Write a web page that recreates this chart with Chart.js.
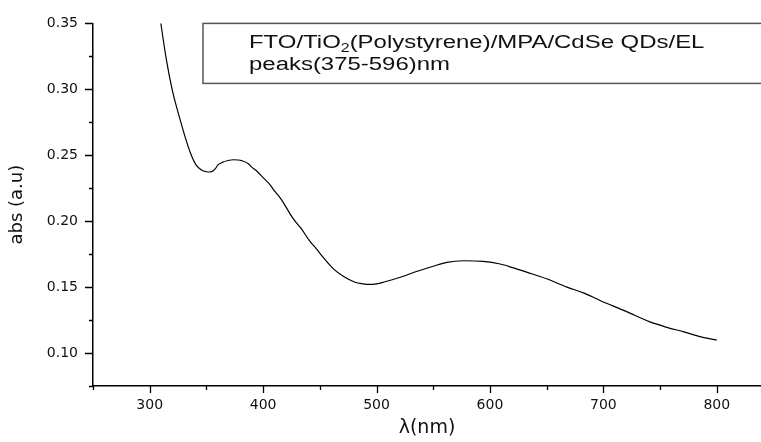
<!DOCTYPE html>
<html>
<head>
<meta charset="utf-8">
<script src="https://cdn.jsdelivr.net/npm/chart.js@4/dist/chart.umd.min.js"></script>
<style>
  body { margin: 0; background: #fff; }
  #wrap { width: 761px; height: 442px; }
</style>
</head>
<body>
<div id="wrap"><canvas id="myChart"></canvas></div>
<script>
// wavelength (nm) and absorbance
const wavelength = [300, 305, 310, 315, 320, 322, 327, 331, 336, 341, 346, 350, 353, 356, 358, 360,
  364, 369, 374, 378, 381, 387, 390, 395, 400, 406, 410, 415, 420, 424, 428, 433, 441, 447, 453,
  462, 471, 481, 488, 494, 500, 506, 521, 536, 550, 562, 577, 594, 609, 620, 633, 650, 668, 683,
  697, 720, 741, 756, 771, 786, 800];
const absorbance = [0.415, 0.38, 0.349, 0.321, 0.299, 0.292, 0.2765, 0.2645, 0.2515, 0.2425, 0.2386,
  0.2375, 0.2373, 0.2382, 0.2400, 0.2425, 0.2446, 0.2460, 0.2466, 0.2464, 0.2459, 0.2436, 0.2410,
  0.2375, 0.2330, 0.2278, 0.2230, 0.2177, 0.2110, 0.2052, 0.2002, 0.1951, 0.1851, 0.1790, 0.1725,
  0.1638, 0.1580, 0.1537, 0.1525, 0.1520, 0.1525, 0.1537, 0.1575, 0.1620, 0.1658, 0.1688, 0.1700,
  0.1695, 0.1675, 0.1648, 0.1612, 0.1563, 0.1500, 0.1454, 0.1399, 0.1316, 0.1236, 0.1195, 0.1160,
  0.1123, 0.1098];
const legendLines = ['FTO/TiO', '2', '(Polystyrene)/MPA/CdSe QDs/EL', 'peaks(375-596)nm'];

const FONT = "'Liberation Sans', Arial, sans-serif";
const WIDE = "'DejaVu Sans', sans-serif";

// outward tick marks, major and minor
const tickMarks = {
  id: 'tickMarks',
  afterDraw(chart) {
    const ctx = chart.ctx;
    const x = chart.scales.x, y = chart.scales.y;
    ctx.save();
    ctx.strokeStyle = '#000';
    ctx.lineWidth = 1.3;
    ctx.beginPath();
    for (let v = 250; v <= x.max; v += 50) {
      const px = Math.round(x.getPixelForValue(v)) + 0.5;
      const len = v % 100 === 0 ? 7 : 4;
      ctx.moveTo(px, y.bottom);
      ctx.lineTo(px, y.bottom + len);
    }
    for (let i = 0; i * 0.025 + 0.075 <= y.max + 1e-9; i++) {
      const v = 0.075 + i * 0.025;
      const py = Math.round(y.getPixelForValue(v)) + 0.5;
      const len = i % 2 === 1 ? 8 : 4;
      ctx.moveTo(x.left, py);
      ctx.lineTo(x.left - len, py);
    }
    ctx.stroke();
    ctx.restore();
  }
};

// the text box at the top right (the picture is stretched sideways, so is the text)
const noteBox = {
  id: 'noteBox',
  afterDraw(chart) {
    const ctx = chart.ctx;
    const top = chart.chartArea.top;
    ctx.save();
    ctx.strokeStyle = '#555';
    ctx.lineWidth = 1.5;
    ctx.strokeRect(203, top, 600, 60);
    ctx.fillStyle = '#111';
    ctx.textBaseline = 'alphabetic';
    ctx.translate(249, 0);
    ctx.scale(1.33, 1);
    ctx.font = '18px ' + FONT;
    let tx = 0;
    ctx.fillText(legendLines[0], tx, top + 25);
    tx += ctx.measureText(legendLines[0]).width;
    ctx.font = '12px ' + FONT;
    ctx.fillText(legendLines[1], tx, top + 29);
    tx += ctx.measureText(legendLines[1]).width;
    ctx.font = '18px ' + FONT;
    ctx.fillText(legendLines[2], tx, top + 25);
    ctx.fillText(legendLines[3], 0, top + 47);
    ctx.restore();
  }
};

new Chart(document.getElementById('myChart').getContext('2d'), {
  type: 'line',
  data: {
    datasets: [{
      data: wavelength.map((w, i) => ({ x: w, y: absorbance[i] })),
      borderColor: '#000',
      borderWidth: 1.2,
      pointRadius: 0,
      cubicInterpolationMode: 'monotone',
      fill: false
    }]
  },
  options: {
    responsive: true,
    maintainAspectRatio: false,
    animation: false,
    layout: { padding: { top: 21, right: 0, left: 0, bottom: 0 } },
    plugins: { legend: { display: false }, tooltip: { enabled: false } },
    scales: {
      x: {
        type: 'linear',
        min: 250,
        max: 839,
        afterFit: (s) => { s.height = 56; s.paddingRight = 0; s.paddingLeft = 0; },
        grid: { display: false, drawTicks: false },
        border: { display: true, color: '#000', width: 1.5 },
        ticks: {
          stepSize: 50,
          padding: 11,
          color: '#111',
          font: { family: WIDE, size: 14 },
          maxRotation: 0,
          autoSkip: false,
          callback: (v) => (v % 100 === 0 ? String(v) : '')
        },
        title: {
          display: true,
          text: 'λ(nm)',
          color: '#111',
          font: { family: WIDE, size: 19 },
          padding: { top: 0, bottom: 3 }
        }
      },
      y: {
        min: 0.075,
        max: 0.35,
        afterFit: (s) => { s.width = 93; },
        grid: { display: false, drawTicks: false },
        border: { display: true, color: '#000', width: 1.5 },
        ticks: {
          stepSize: 0.025,
          padding: 15,
          color: '#111',
          font: { family: WIDE, size: 14 },
          autoSkip: false,
          callback: (v) => {
            const k = v * 20;
            return Math.abs(k - Math.round(k)) < 1e-6 ? v.toFixed(2) : '';
          }
        },
        title: {
          display: true,
          text: 'abs (a.u)',
          color: '#111',
          font: { family: WIDE, size: 18 },
          padding: { top: 7, bottom: 0 }
        }
      }
    }
  },
  plugins: [tickMarks, noteBox]
});
</script>
</body>
</html>
